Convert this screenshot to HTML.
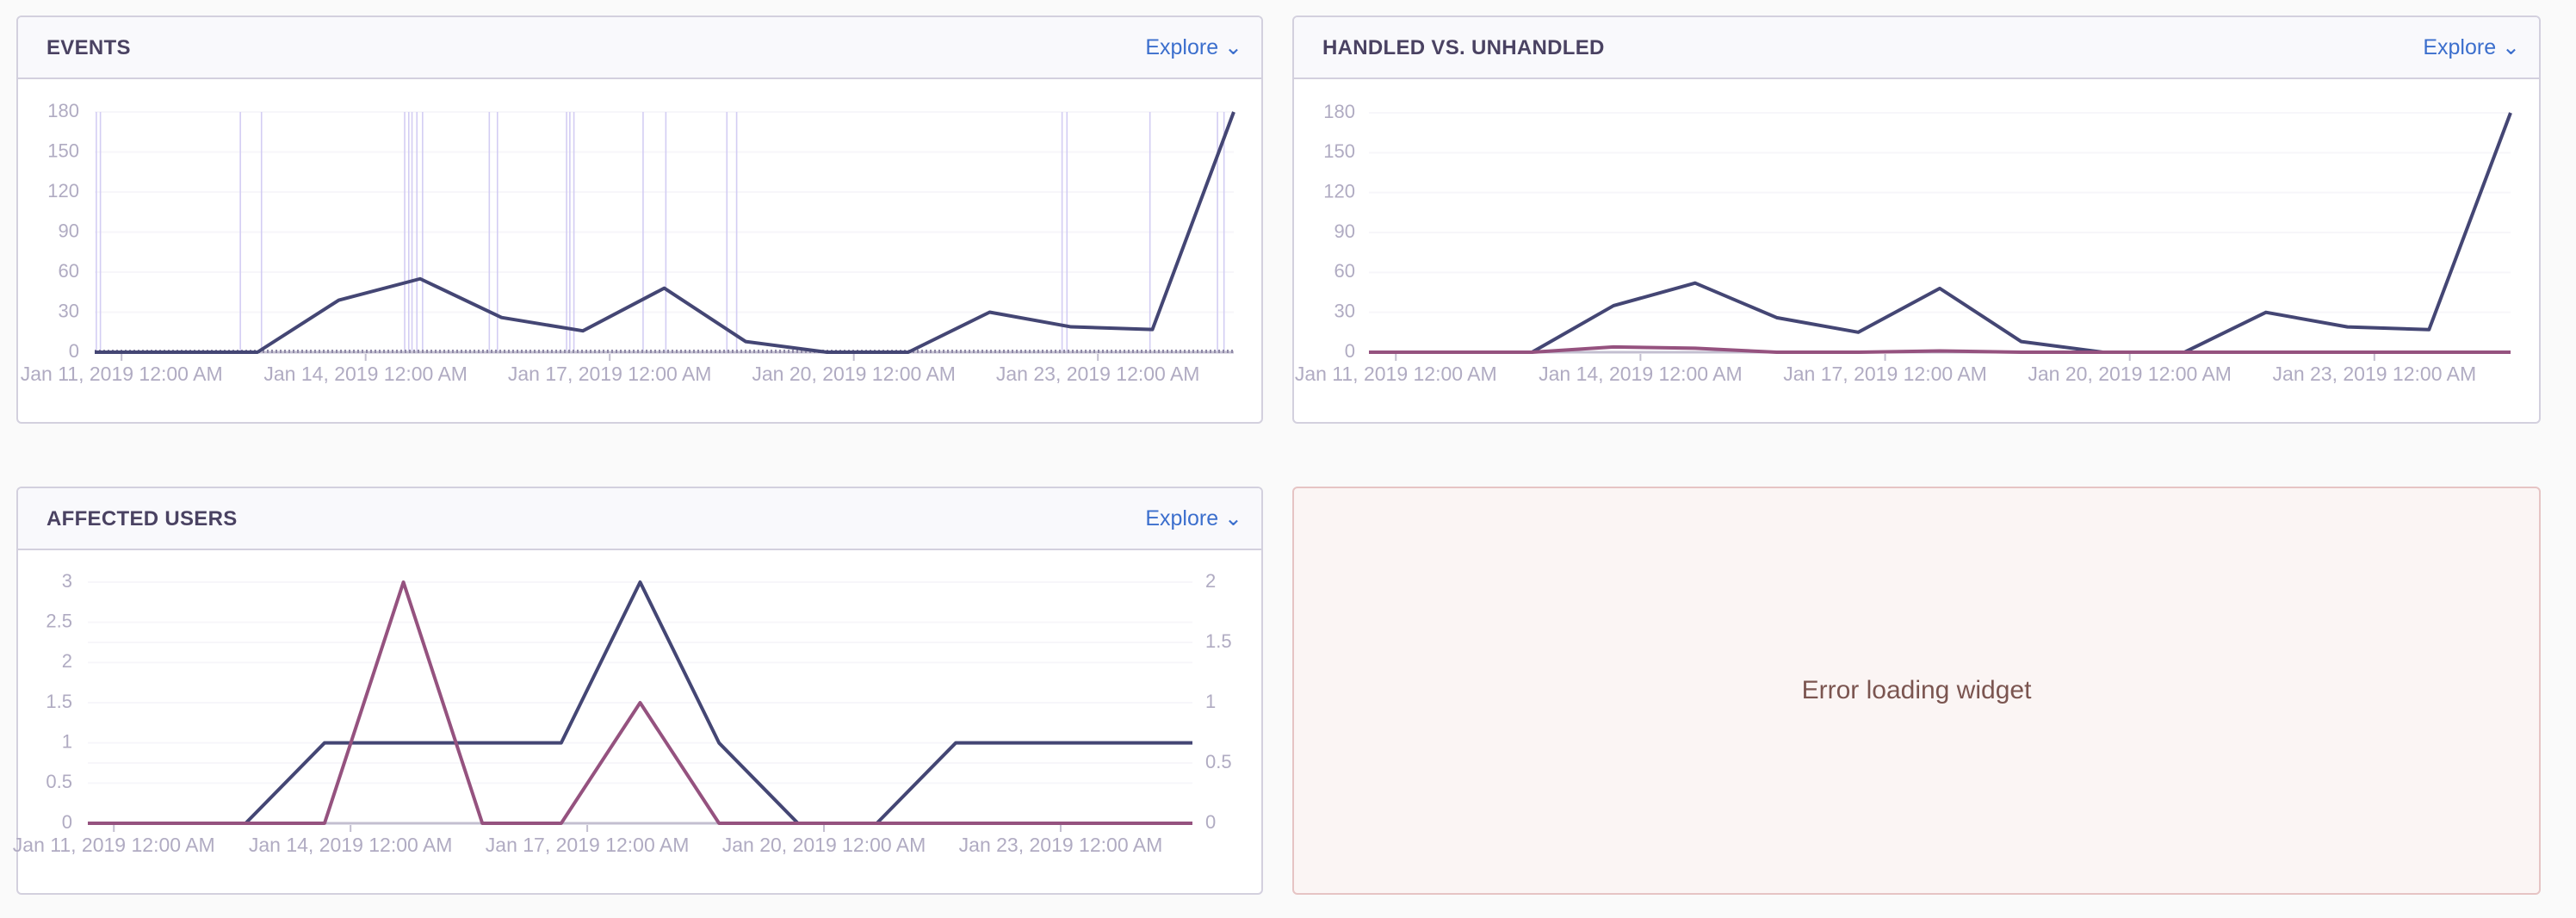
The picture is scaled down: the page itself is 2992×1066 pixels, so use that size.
<!DOCTYPE html>
<html><head><meta charset="utf-8"><style>
body{margin:0;width:2992px;height:1066px;background:#fafafa;font-family:"Liberation Sans",sans-serif;position:relative;overflow:hidden}
.panel{position:absolute;background:#fff;border:2px solid #d3d0de;border-radius:6px;box-sizing:border-box;overflow:hidden}
.hdr{position:absolute;left:0;right:0;top:0;height:70px;background:#f9f9fc;border-bottom:2px solid #d3d0de}
.title{position:absolute;left:33px;top:22px;font-size:24px;font-weight:bold;color:#4a4262;letter-spacing:0.3px}
.explore{position:absolute;right:22px;top:20px;font-size:25px;color:#3c6fcd}
svg{position:absolute;left:0;top:0}
svg text{font-family:"Liberation Sans",sans-serif;fill:#b0abc2}
</style></head><body>
<div class="panel" style="left:19px;top:18px;width:1448px;height:474px">
 <div class="hdr"><div class="title">EVENTS</div><div class="explore">Explore &#8964;</div></div>
</div>
<div class="panel" style="left:1501px;top:18px;width:1450px;height:474px">
 <div class="hdr"><div class="title">HANDLED VS. UNHANDLED</div><div class="explore">Explore &#8964;</div></div>
</div>
<div class="panel" style="left:19px;top:565px;width:1448px;height:474px">
 <div class="hdr"><div class="title">AFFECTED USERS</div><div class="explore">Explore &#8964;</div></div>
</div>
<div class="panel" style="left:1501px;top:565px;width:1450px;height:474px;background:#fbf5f4;border-color:#e6c4c4">
 <div style="position:absolute;left:0;right:0;top:218px;text-align:center;font-size:30px;color:#7b5550">Error loading widget</div>
</div>
<svg id="chart" width="2992" height="1066"></svg>
<script>
const xTickLabels=["Jan 11, 2019 12:00 AM","Jan 14, 2019 12:00 AM","Jan 17, 2019 12:00 AM","Jan 20, 2019 12:00 AM","Jan 23, 2019 12:00 AM"];
const xTickIndex=[0.33,3.33,6.33,9.33,12.33];
const eventCounts=[0,0,0,39,55,26,16,48,8,0,0,30,19,17,180];
const releaseIndex=[0.02,0.07,1.79,2.05,3.81,3.86,3.90,3.96,4.03,4.85,4.95,5.80,5.84,5.89,6.74,7.02,7.77,7.89,11.89,11.95,12.97,13.80,13.88];
const handledCounts=[0,0,0,35,52,26,15,48,8,0,0,30,19,17,180];
const unhandledCounts=[0,0,0,4,3,0,0,1,0,0,0,0,0,0,0];
const countTicks=[0,30,60,90,120,150,180];
const usersLeft=[0,0,0,1,1,1,1,3,1,0,0,1,1,1,1];
const usersRight=[0,0,0,0,2,0,0,1,0,0,0,0,0,0,0];
const leftTicks=[0,0.5,1,1.5,2,2.5,3];
const rightTicks=[0,0.5,1,1.5,2];
const svg=document.getElementById('chart');
const NS='http://www.w3.org/2000/svg';
function mk(tag,attrs,name){const e=document.createElementNS(NS,tag);for(const k in attrs)e.setAttribute(k,attrs[k]);


svg.appendChild(e);return e;}
function txt(x,y,s,anchor,size,name){const t=mk('text',{x:x,y:y,'text-anchor':anchor,'font-size':size,'dominant-baseline':'middle'},name);t.textContent=s;return t;}
function chart(c){
 const n=15;
 const X=i=>c.x0+(c.x1-c.x0)*i/(n-1);
 const Y=v=>c.y0-(c.y0-c.yTop)*v/c.max;
 c.ticks.forEach(v=>{mk('line',{x1:c.x0,x2:c.x1,y1:Y(v),y2:Y(v),stroke:'#f7f6fa','stroke-width':2},'gridline');
  txt(c.labelX,Y(v),String(v),'end',22,'y-tick-label');});
 if(c.rTicks){const YR=v=>c.y0-(c.y0-c.yTop)*v/c.rMax;
  c.rTicks.forEach(v=>{mk('line',{x1:c.x0,x2:c.x1,y1:YR(v),y2:YR(v),stroke:'#f7f6fa','stroke-width':2},'right-gridline');
  txt(c.x1+15,YR(v),String(v),'start',22,'right-y-tick-label');});}
 if(c.releases)c.releases.forEach(r=>mk('line',{x1:X(r),x2:X(r),y1:c.yTop,y2:c.y0,stroke:'#d3cdf3','stroke-width':1.6},'release-marker'));
 mk('line',{x1:c.x0,x2:c.x1,y1:c.y0,y2:c.y0,stroke:'#c3bfd0','stroke-width':3},'x-axis-line');
 if(c.dotted)mk('line',{x1:c.x0,x2:c.x1,y1:c.y0-1,y2:c.y0-1,stroke:'#8e88a6','stroke-width':4,'stroke-dasharray':'2,3'},'zero-baseline');
 xTickIndex.forEach((ti,k)=>{mk('line',{x1:X(ti),x2:X(ti),y1:c.y0+2,y2:c.y0+10,stroke:'#c3bfd0','stroke-width':2},'x-tick');
  txt(X(ti),c.y0+27,xTickLabels[k],'middle',23,'x-tick-label');});
 c.series.forEach(s=>{const mx=s.right?c.rMax:c.max;
  const pts=s.data.map((v,i)=>X(i)+','+(c.y0-(c.y0-c.yTop)*v/mx)).join(' ');
  mk('polyline',{points:pts,fill:'none',stroke:s.color,'stroke-width':4,'stroke-linejoin':'round'},s.name);});
}
chart({x0:110,x1:1433,yTop:130,y0:409,max:180,ticks:countTicks,labelX:92,releases:releaseIndex,dotted:true,
 series:[{data:eventCounts,color:'#444674',name:'events-line'}]});
chart({x0:1590,x1:2916,yTop:131,y0:409,max:180,ticks:countTicks,labelX:1574,
 series:[{data:handledCounts,color:'#444674',name:'handled-line'},{data:unhandledCounts,color:'#95527f',name:'unhandled-line'}]});
chart({x0:102,x1:1385,yTop:676,y0:956,max:3,ticks:leftTicks,labelX:84,rTicks:rightTicks,rMax:2,
 series:[{data:usersLeft,color:'#444674',name:'users-line'},{data:usersRight,color:'#95527f',name:'users-right-line',right:true}]});
</script>
</body></html>
